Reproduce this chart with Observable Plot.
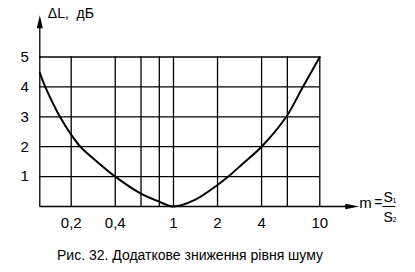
<!DOCTYPE html>
<html><head><meta charset="utf-8">
<script src="https://cdn.jsdelivr.net/npm/d3@7"></script>
<script src="https://cdn.jsdelivr.net/npm/@observablehq/plot@0.6"></script>
<style>
body{margin:0;background:#fff;font-family:"Liberation Sans",Arial,sans-serif;}
#chart svg{display:block;}
#cap{width:380px;text-align:center;font-size:14px;line-height:16px;margin-top:7px;color:#000;}
</style></head><body>
<div id="chart"></div>
<div id="cap"></div>
<script>
// curve readings
const mValues  = [0.122, 0.133, 0.1675, 0.2, 0.231, 0.3, 0.4, 0.6, 0.8, 1, 1.41, 2, 2.37, 3, 4, 5.9, 7.66, 10];
const dLValues = [4.47, 4, 3, 2.4, 2, 1.5, 1, 0.43, 0.16, 0, 0.23, 0.72, 1, 1.45, 2, 3, 4, 5];
// grid and ticks
const xGrid  = [0.2, 0.4, 0.6, 0.8, 1, 2, 4, 6, 10];
const yGrid  = [1, 2, 3, 4, 5];
const xTicks = [0.2, 0.4, 1, 2, 4, 6, 10];
const yTicks = [1, 2, 3, 4, 5];
const xDomain = [0.122, 10];
const yDomain = [0, 5];
const yTitle = "ΔL,\u00a0 дБ";
const xLabelM = "m";
const xLabelEq = "=";
const xLabelS = "S";
const xSub1 = "1";
const xSub2 = "2";
const caption = "Рис. 32. Додаткове зниження рівня шуму";

const data = mValues.map((m, i) => ({m, dL: dLValues[i]}));
const fmt = d => String(d).replace(".", ",");
const lineShape = {draw(ctx, l) { ctx.moveTo(0, 0); ctx.lineTo(0, -l); }};
const FONT = "'Liberation Sans', Arial, sans-serif";
const lw = 1.3;

const chart = Plot.plot({
  width: 415, height: 240,
  marginLeft: 39.3, marginRight: 95.7, marginTop: 56.5, marginBottom: 34,
  style: {fontFamily: FONT, fontSize: "15px", color: "#000", background: "#fff", overflow: "visible"},
  x: {type: "log", domain: xDomain},
  y: {domain: yDomain},
  marks: [
    Plot.ruleX(xGrid, {stroke: "#000", strokeWidth: lw}),
    Plot.ruleY(yGrid, {stroke: "#000", strokeWidth: lw}),
    Plot.ruleY([yDomain[0]], {stroke: "#000", strokeWidth: lw}),
    Plot.ruleX([xDomain[0]], {stroke: "#000", strokeWidth: lw}),
    // y axis extension + arrow
    Plot.vector([0], {frameAnchor: "top-left", length: 29, rotate: 0, anchor: "start", shape: lineShape, stroke: "#000", strokeWidth: lw}),
    Plot.vector([0], {frameAnchor: "top-left", dy: -28.8, length: 13, r: 3, rotate: 0, anchor: "start", shape: "spike", fill: "#000", stroke: "none"}),
    // x axis extension + arrow
    Plot.vector([0], {frameAnchor: "bottom-right", length: 26, rotate: 90, anchor: "start", shape: lineShape, stroke: "#000", strokeWidth: lw}),
    Plot.vector([0], {frameAnchor: "bottom-right", dx: 25.5, length: 14, r: 2.8, rotate: 90, anchor: "start", shape: "spike", fill: "#000", stroke: "none"}),
    // curve
    Plot.line(data, {x: "m", y: "dL", curve: "catmull-rom", stroke: "#000", strokeWidth: 2}),
    // axes labels
    Plot.axisX({ticks: xTicks, tickFormat: fmt, tickSize: 0, tickPadding: 11, fontSize: 15, label: null}),
    Plot.axisY({ticks: yTicks, tickFormat: d => String(d), tickSize: 0, tickPadding: 11, fontSize: 15, label: null}),
    // titles
    Plot.text([yTitle], {text: d => d, frameAnchor: "top-left", textAnchor: "start", lineAnchor: "bottom", dx: 8, dy: -39.5, fontSize: 14}),
    Plot.text([xLabelM], {text: d => d, frameAnchor: "bottom-right", textAnchor: "start", lineAnchor: "bottom", dx: 39.5, dy: 1.3, fontSize: 15}),
    Plot.text([xLabelEq], {text: d => d, frameAnchor: "bottom-right", textAnchor: "start", lineAnchor: "bottom", dx: 54.5, dy: 0.8, fontSize: 14}),
    Plot.vector([0], {frameAnchor: "bottom-right", dx: 63, length: 12, rotate: 90, anchor: "start", shape: lineShape, stroke: "#000", strokeWidth: 1}),
    Plot.text([xLabelS], {text: d => d, frameAnchor: "bottom-right", textAnchor: "start", lineAnchor: "bottom", dx: 63.8, dy: -4.3, fontSize: 14}),
    Plot.text([xSub1], {text: d => d, frameAnchor: "bottom-right", textAnchor: "start", lineAnchor: "bottom", dx: 72.8, dy: -4, fontSize: 7}),
    Plot.text([xLabelS], {text: d => d, frameAnchor: "bottom-right", textAnchor: "start", lineAnchor: "bottom", dx: 63.8, dy: 15, fontSize: 14}),
    Plot.text([xSub2], {text: d => d, frameAnchor: "bottom-right", textAnchor: "start", lineAnchor: "bottom", dx: 72.8, dy: 15.5, fontSize: 7})
  ]
});
document.getElementById("chart").appendChild(chart);
document.getElementById("cap").textContent = caption;
</script>
</body></html>
